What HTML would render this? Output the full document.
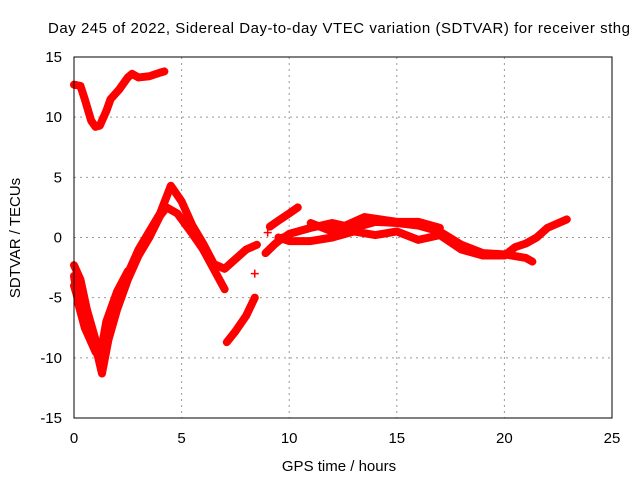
<!DOCTYPE html>
<html><head><meta charset="utf-8"><style>
body{margin:0;background:#fff}
svg{display:block;font-family:"Liberation Sans",sans-serif}
</style></head><body>
<svg id="chart" width="640" height="480">
<rect width="640" height="480" fill="#fff"/>
<text x="48" y="33" font-size="15" textLength="582" lengthAdjust="spacing">Day 245 of 2022, Sidereal Day-to-day VTEC variation (SDTVAR) for receiver sthg</text>
<text x="339" y="471" font-size="15" text-anchor="middle">GPS time / hours</text>
<text x="20" y="238" font-size="15" text-anchor="middle" transform="rotate(-90 20 238)">SDTVAR / TECUs</text>
<g id="grid"></g><g id="ticks"></g><g id="series"></g>
<rect x="74" y="57" width="538" height="361" fill="none" stroke="#000" stroke-width="1"/>
</svg>
<script>
const xTicks=[0,5,10,15,20,25];
const yTicks=[-15,-10,-5,0,5,10,15];
const trackTop=[[0,12.7],[0.3,12.6],[0.5,11.5],[0.8,9.7],[1.0,9.2],[1.2,9.3],[1.5,10.5],[1.7,11.5],[2.1,12.3],[2.5,13.3],[2.7,13.6],[3.0,13.3],[3.5,13.4],[4.0,13.7],[4.2,13.8]];
const trackV1=[[0,-2.3],[0.3,-3.5],[0.6,-6],[1,-8.5],[1.3,-9.5],[1.6,-8],[2,-5],[2.5,-3],[3,-1],[3.5,0.5],[4,2],[4.5,4.3],[5,3],[5.5,1],[6,-0.5],[6.5,-2.2],[7,-2.6],[7.5,-1.8],[8,-1],[8.5,-0.6]];
const trackV2=[[0,-4],[0.5,-7],[1,-9],[1.3,-11.3],[1.6,-8.5],[2,-6],[2.5,-3.5],[3,-1.5],[3.5,0],[4,1.8],[4.3,2.5],[4.8,2.0],[5.5,0.3],[6,-1],[7,-4.3]];
const trackV3=[[0,-3.2],[0.2,-5.5],[0.5,-7.5],[1,-9.5],[1.2,-10],[1.5,-7],[2,-4.5],[2.5,-2.8]];
const trackLow=[[7.1,-8.7],[7.5,-7.8],[8,-6.5],[8.4,-5.0]];
const trackD1=[[9.1,0.9],[9.5,1.4],[10,2.0],[10.4,2.5]];
const trackD2=[[8.9,-1.3],[9.3,-0.6],[9.7,0]];
const trackC1=[[9.5,-0.3],[10,0.3],[11,0.8],[12,1.2],[13,0.8],[14,1.3],[15,1.2],[16,1.0],[17,0.5],[18,-0.6],[19,-1.3],[20,-1.4],[21,-1.7],[21.3,-2.0]];
const trackC2=[[9.5,0],[10,-0.3],[11,-0.3],[12,0],[13,0.5],[14,0.2],[15,0.5],[16,-0.2],[17,0.2],[18,-1.0],[19,-1.5],[20,-1.5],[20.5,-0.8],[21,-0.5],[21.5,0],[22,0.8],[22.9,1.5]];
const trackC3=[[11,1.2],[12,0.5],[13.5,1.7],[15,1.3],[16,1.3],[17,0.8]];
const isolated=[[8.4,-3.0],[9.0,0.4]];
const tracks=[trackTop,trackV1,trackV2,trackV3,trackLow,trackD1,trackD2,trackC1,trackC2,trackC3];
const NS='http://www.w3.org/2000/svg';
const X=v=>74+v*538/25, Y=v=>418-(v+15)*361/30;
const grid=document.getElementById('grid'),ticks=document.getElementById('ticks'),ser=document.getElementById('series');
function mk(t,a,p){const e=document.createElementNS(NS,t);for(const k in a)e.setAttribute(k,a[k]);p.appendChild(e);return e;}
xTicks.forEach(t=>{
 if(t>0&&t<25){const g=mk('line',{x1:X(t),x2:X(t),y1:57,y2:418,stroke:'#999','stroke-dasharray':'2,4'},grid);
 
 }
 const l=mk('text',{x:X(t),y:443,'font-size':15,'text-anchor':'middle'},ticks);l.textContent=t;
 
 
});
yTicks.forEach(t=>{
 if(t>-15&&t<15){const g=mk('line',{x1:74,x2:612,y1:Y(t),y2:Y(t),stroke:'#999','stroke-dasharray':'2,4'},grid);
 
 }
 const l=mk('text',{x:62,y:Y(t)+5,'font-size':15,'text-anchor':'end'},ticks);l.textContent=t;
 
 
});
tracks.forEach(tr=>{
 const p=mk('polyline',{points:tr.map(d=>X(d[0])+','+Y(d[1])).join(' '),fill:'none',stroke:'#f00','stroke-width':8,'stroke-linejoin':'round','stroke-linecap':'round'},ser);
 
 
});
isolated.forEach(d=>{
 const g=mk('path',{d:`M${X(d[0])-4},${Y(d[1])}h8M${X(d[0])},${Y(d[1])-4}v8`,stroke:'#f00','stroke-width':1.5},ser);
 
 
});
</script>
</body></html>
